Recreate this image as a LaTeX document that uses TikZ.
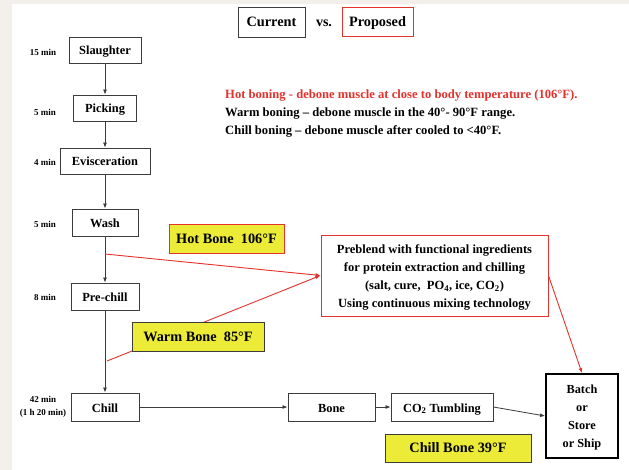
\documentclass[tikz,border=0pt]{standalone}
\usepackage{fontspec}
\setmainfont{Liberation Serif}
\usetikzlibrary{arrows.meta}
\definecolor{bgbeige}{RGB}{243,240,235}
\definecolor{hl}{RGB}{236,236,56}
\definecolor{rd}{RGB}{228,50,45}
\definecolor{dk}{RGB}{60,60,60}
\tikzset{
  basebox/.style={draw=dk, line width=0.9pt, fill=white, font=\bfseries\fontsize{12.4}{14}\selectfont, inner sep=0pt, minimum height=27pt},
  stepbox/.style={basebox, text height=10pt, text depth=0pt},
  headbox/.style={basebox, font=\bfseries\fontsize{14.3}{16}\selectfont, text height=9.8pt, text depth=0pt},
  hlbox/.style={draw=dk, line width=0.9pt, fill=hl, font=\bfseries\fontsize{14.3}{16}\selectfont, inner sep=0pt, minimum height=29pt, text height=9.6pt, text depth=0pt},
  tlabel/.style={font=\bfseries\fontsize{9}{13}\selectfont, align=center},
  arr/.style={-{Latex[length=5pt,width=4pt]}, draw=dk, line width=0.8pt},
  rarr/.style={-{Latex[length=5pt,width=4pt]}, draw=rd, line width=0.9pt},
  deftext/.style={font=\bfseries\fontsize{12.6}{17}\selectfont, anchor=west, inner sep=0pt}
}
\begin{document}
\begin{tikzpicture}[x=1pt,y=-1pt]
\fill[bgbeige] (0,0) rectangle (629,470);
\fill[white] (12,4) rectangle (629,470);
\useasboundingbox (0,0) rectangle (629,470);

% header
\node[headbox, minimum width=67pt, minimum height=30pt] (cur) at (271.5,22) {Current};
\node[font=\bfseries\fontsize{14}{16}\selectfont, text height=9.8pt, text depth=0pt, inner sep=0pt] (vs) at (324,22) {vs.};
\node[headbox, draw=rd, minimum width=71pt, minimum height=29pt] (prop) at (377.5,21.5) {Proposed};

% definitions
\node[deftext, text=rd] (d1) at (225,96) {Hot boning - debone muscle at close to body temperature (106°F).};
\node[deftext] (d2) at (225,114) {Warm  boning – debone muscle in the 40°- 90°F range.};
\node[deftext] (d3) at (225,131) {Chill boning – debone muscle after cooled to <40°F.};

% process steps
\node[stepbox, minimum width=72pt, minimum height=26pt] (sl) at (105,50) {Slaughter};
\node[stepbox, minimum width=63pt, minimum height=26pt] (pk) at (105,108) {Picking};
\node[stepbox, minimum width=90pt, minimum height=26pt] (ev) at (105,161) {Evisceration};
\node[stepbox, minimum width=66pt] (wa) at (105,222.5) {Wash};
\node[stepbox, minimum width=68pt] (pc) at (105,296.5) {Pre-chill};
\node[stepbox, minimum width=68pt, minimum height=28pt] (ch) at (105,407) {Chill};
\node[stepbox, minimum width=87pt, minimum height=28pt] (bo) at (331.5,407) {Bone};
\node[stepbox, minimum width=102pt, minimum height=28pt] (co) at (442,407) {CO\textsubscript{2} Tumbling};
\node[basebox, line width=1.8pt, draw=black, minimum width=72pt, minimum height=84pt] (ba) at (582,416) {};
\node[align=center, inner sep=0pt, font=\bfseries\fontsize{12.3}{18}\selectfont] (batext) at ([yshift=-2pt]ba.center) {Batch\\or\\Store\\or Ship};

% time labels
\node[tlabel] (t1) at (43,52) {15 min};
\node[tlabel] (t2) at (45,112) {5 min};
\node[tlabel] (t3) at (45,162) {4 min};
\node[tlabel] (t4) at (45,224) {5 min};
\node[tlabel] (t5) at (45,297) {8 min};
\node[tlabel] (t6) at (43,407) {42 min\\(1 h 20 min)};

% preblend
\node[basebox, draw=rd, minimum width=227pt, minimum height=81pt] (pb) at (434.5,275.5) {};
\node[align=center, inner sep=0pt, font=\bfseries\fontsize{12.5}{18}\selectfont] (pbtext) at ([yshift=-2pt]pb.center) {Preblend with functional ingredients\\for protein extraction and chilling\\(salt, cure,\ \ PO\textsubscript{4}, ice, CO\textsubscript{2})\\Using continuous mixing technology};

% main flow arrows
\draw[arr] (sl) -- (pk);
\draw[arr] (pk) -- (ev);
\draw[arr] (ev) -- (wa);
\draw[arr] (wa) -- (pc);
\draw[arr] (pc) -- (ch);
\draw[arr] (ch) -- (bo);
\draw[arr] (bo) -- (co);
\draw[arr] (co.east) -- (ba.west);

% red connectors
\coordinate (hbp) at (105,254);
\coordinate (wbp) at (107,361);
\draw[rarr] (hbp) -- (pb.west);
\draw[rarr] (wbp) -- (pb.west);
\draw[rarr] (pb.east) -- (ba.north);

% highlight boxes
\node[hlbox, draw=rd, minimum width=115pt] (hb) at (226.5,238.5) {Hot Bone\ \ 106°F};
\node[hlbox, minimum width=132pt] (wb) at (198,336.5) {Warm Bone\ \ 85°F};
\node[hlbox, minimum width=146pt, minimum height=28pt] (cb) at (458,448) {Chill Bone 39°F};
\end{tikzpicture}
\end{document}
